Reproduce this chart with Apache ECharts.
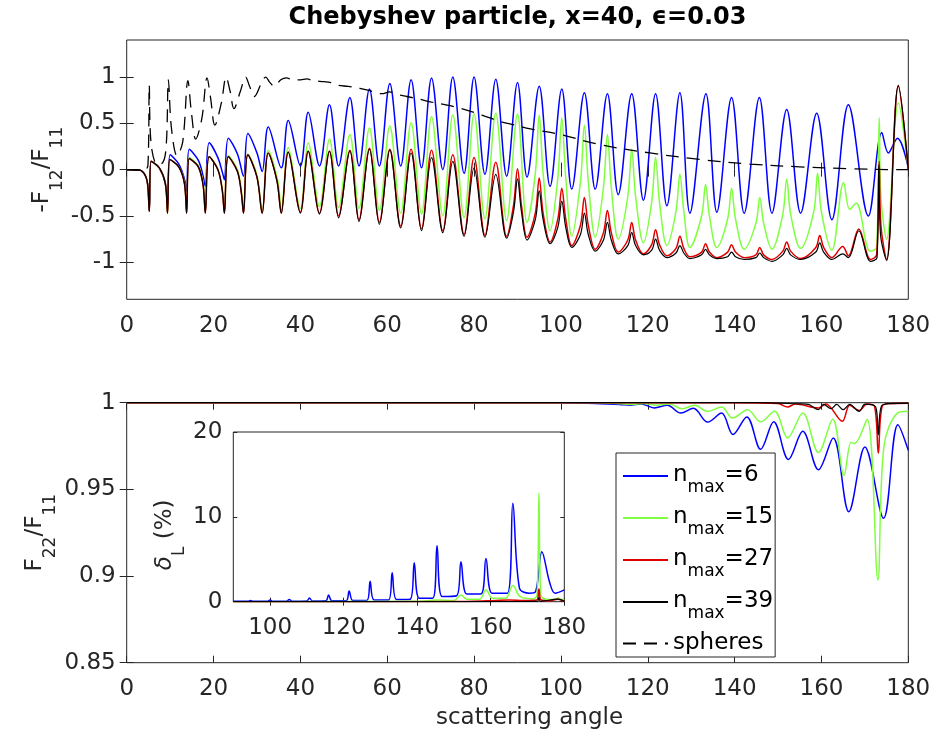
<!DOCTYPE html>
<html><head><meta charset="utf-8">
<script src="https://cdn.jsdelivr.net/npm/echarts@6/dist/echarts.min.js"></script>
<style>html,body{margin:0;padding:0;background:#fff}#c{width:935px;height:747px}</style>
</head><body><div id="c"></div>
<script>
// ---------------- data ----------------
const seriesNames = ['nmax=6', 'nmax=15', 'nmax=27', 'nmax=39', 'spheres'];
const xTicks = [0, 20, 40, 60, 80, 100, 120, 140, 160, 180];
const yTicksTop = [-1, -0.5, 0, 0.5, 1];
const yTicksBottom = [0.85, 0.9, 0.95, 1];
const xTicksInset = [100, 120, 140, 160, 180];
const yTicksInset = [0, 10, 20];

// -F12/F11  [angle, value]
const f12Blue = [[0,0],[2.5,0],[4,-0.04],[4.8,-0.15],[5.2,-0.45],[5.6,0.09],[7.5,0.02],[8.9,-0.15],[9.4,-0.38],[10.0,0.16],[12.0,0.06],[13.3,-0.10],[13.8,-0.23],[14.4,0.22],[16.5,0.10],[17.6,-0.07],[18.1,-0.18],[19.0,0.29],[21.0,0.13],[22.1,-0.04],[22.5,-0.11],[23.4,0.34],[25.5,0.17],[26.9,-0.07],[27.9,0.39],[30.0,0.18],[31.2,-0.02],[32.6,0.46],[35.6,0.02],[37.2,0.53],[40.0,0.04],[41.8,0.62],[44.4,0.04],[46.7,0.70],[48.8,0.04],[51.4,0.78],[53.5,0.04],[55.9,0.87],[58.2,0.04],[60.6,0.93],[63.1,0.04],[65.5,0.97],[67.9,0.02],[70.2,0.99],[72.8,0.00],[75.1,1.00],[77.7,-0.04],[80.0,1.00],[82.5,-0.05],[85.0,0.975],[87.5,-0.07],[90.0,0.94],[92.2,-0.08],[95.0,0.90],[97.5,-0.18],[100.2,0.87],[102.5,-0.21],[105.4,0.83],[107.9,-0.21],[110.7,0.82],[113.2,-0.27],[116.3,0.82],[119.0,-0.33],[121.8,0.82],[124.4,-0.39],[127.4,0.83],[129.7,-0.47],[133.4,0.82],[135.9,-0.46],[139.3,0.78],[142.2,-0.47],[145.7,0.78],[148.6,-0.47],[152.0,0.65],[155.2,-0.47],[158.9,0.61],[162.4,-0.54],[166.2,0.70],[170.8,-0.50],[173.9,0.40],[175.4,0.18],[177.5,0.34],[180,0.02]];
const f12Green = [[0,0],[2.5,0],[4,-0.04],[4.8,-0.15],[5.2,-0.45],[5.6,0.09],[7.5,0.02],[8.9,-0.15],[9.4,-0.47],[9.9,0.11],[12.0,0.03],[13.3,-0.14],[13.8,-0.46],[14.4,0.13],[16.5,0.04],[17.6,-0.15],[18.1,-0.45],[19.0,0.14],[21.0,0.01],[22.0,-0.20],[22.5,-0.45],[23.4,0.15],[25.5,0.00],[26.4,-0.22],[26.9,-0.45],[27.9,0.17],[30.0,-0.06],[31.2,-0.45],[32.6,0.21],[34.8,-0.12],[35.6,-0.44],[37.2,0.24],[40.0,-0.42],[41.8,0.29],[44.4,-0.40],[46.7,0.33],[48.8,-0.41],[51.4,0.38],[53.5,-0.42],[55.9,0.45],[58.2,-0.44],[60.6,0.47],[63.1,-0.47],[65.5,0.51],[67.9,-0.48],[70.2,0.57],[72.8,-0.50],[75.1,0.59],[77.7,-0.52],[80.0,0.60],[82.5,-0.53],[85.0,0.61],[87.5,-0.55],[90.0,0.60],[92.2,-0.57],
  [94.1,-0.04],[95.0,0.59],[95.9,-0.04],[97.5,-0.66],[99.3,-0.08],[100.2,0.56],[101.1,-0.08],[102.5,-0.72],[104.5,-0.13],[105.4,0.48],[106.3,-0.13],[107.9,-0.73],[109.8,-0.19],[110.7,0.38],[111.6,-0.19],[113.2,-0.75],[115.4,-0.29],[116.3,0.22],[117.2,-0.29],[119.0,-0.79],[120.9,-0.35],[121.8,0.13],[122.7,-0.35],[124.4,-0.82],[126.5,-0.45],[127.4,-0.05],[128.3,-0.45],[129.7,-0.84],[132.4,-0.50],[133.3,-0.16],[134.2,-0.50],[135.9,-0.84],[138.4,-0.53],[139.3,-0.20],[140.2,-0.53],[142.2,-0.86],[144.9,-0.58],[145.8,-0.30],[146.7,-0.58],[148.6,-0.86],[151.1,-0.48],[152.0,-0.10],[152.9,-0.48],[155.2,-0.85],[158.2,-0.46],[159.1,-0.04],[160.0,-0.46],[162.4,-0.87],[165.1,-0.14],[166.5,-0.43],[168.0,-0.36],[171.2,-0.88],[172.7,-0.84],[173.3,0.56],[173.7,-0.30],[175.0,-0.75],[177.7,0.72],[180,0.0]];
const f12Red = [[0,0],[2.5,0],[4,-0.04],[4.8,-0.15],[5.2,-0.45],[5.6,0.09],[7.5,0.02],[8.9,-0.15],[9.4,-0.47],[9.9,0.11],[12.0,0.03],[13.3,-0.15],[13.8,-0.47],[14.4,0.12],[16.5,0.03],[17.6,-0.17],[18.1,-0.47],[19.0,0.14],[21.0,0.00],[22.0,-0.22],[22.5,-0.47],[23.4,0.14],[25.5,-0.02],[26.4,-0.25],[26.9,-0.47],[27.9,0.16],[30.0,-0.08],[31.2,-0.47],[32.6,0.18],[34.6,-0.12],[35.6,-0.47],[37.2,0.19],[40.0,-0.46],[41.8,0.20],[44.4,-0.47],[46.7,0.20],[48.8,-0.50],[51.4,0.21],[53.5,-0.54],[55.9,0.23],[58.2,-0.57],[60.6,0.22],[63.1,-0.61],[65.5,0.22],[67.9,-0.64],[70.2,0.21],[72.8,-0.66],[75.1,0.16],[77.7,-0.70],[80.0,0.13],[82.5,-0.71],[85.0,0.08],[87.5,-0.72],
  [89.1,-0.38],[90.0,0.01],[90.9,-0.38],[92.2,-0.73],[94.1,-0.47],[95.0,-0.09],[95.9,-0.47],[97.5,-0.78],[99.3,-0.53],[100.2,-0.20],[101.1,-0.53],[102.5,-0.82],[104.5,-0.60],[105.4,-0.30],[106.3,-0.60],[107.9,-0.86],[109.8,-0.68],[110.7,-0.44],[111.6,-0.68],[113.2,-0.89],[115.4,-0.76],[116.3,-0.57],[117.2,-0.76],[119.0,-0.91],[120.9,-0.81],[121.8,-0.65],[122.7,-0.81],[124.4,-0.93],[126.5,-0.85],[127.4,-0.72],[128.3,-0.85],[129.7,-0.94],[132.4,-0.89],[133.3,-0.80],[134.2,-0.89],[135.9,-0.95],[138.4,-0.89],[139.3,-0.81],[140.2,-0.89],[142.2,-0.95],[144.9,-0.92],[145.8,-0.84],[146.7,-0.92],[148.6,-0.97],[151.1,-0.88],[152.0,-0.78],[152.9,-0.88],[155.2,-0.96],[158.7,-0.84],[159.6,-0.71],[160.5,-0.84],[162.4,-0.95],[164.9,-0.83],[166.2,-0.93],[168.6,-0.64],[171.3,-0.97],[172.7,-0.92],[173.3,0.09],[173.7,-0.60],[175.0,-0.97],[177.7,0.90],[180,0.0]];
const f12Black = [[0,0],[2.5,0],[4,-0.04],[4.8,-0.15],[5.2,-0.45],[5.6,0.09],[7.5,0.02],[8.9,-0.15],[9.4,-0.47],[9.9,0.11],[12.0,0.03],[13.3,-0.15],[13.8,-0.47],[14.4,0.12],[16.5,0.03],[17.6,-0.17],[18.1,-0.47],[19.0,0.14],[21.0,0.00],[22.0,-0.22],[22.5,-0.47],[23.4,0.14],[25.5,-0.02],[26.4,-0.25],[26.9,-0.47],[27.9,0.16],[30.0,-0.08],[31.2,-0.47],[32.6,0.18],[34.6,-0.12],[35.6,-0.47],[37.2,0.19],[40.0,-0.47],[41.8,0.20],[44.4,-0.48],[46.7,0.20],[48.8,-0.52],[51.4,0.20],[53.5,-0.56],[55.9,0.22],[58.2,-0.59],[60.6,0.21],[63.1,-0.63],[65.5,0.18],[67.9,-0.66],[70.2,0.13],[72.8,-0.68],[75.1,0.09],[77.7,-0.72],[80.0,0.02],[82.5,-0.73],[85.0,-0.05],[87.5,-0.74],
  [89.1,-0.45],[90.0,-0.10],[90.9,-0.45],[92.2,-0.76],[94.1,-0.54],[95.0,-0.23],[95.9,-0.54],[97.5,-0.80],[99.3,-0.62],[100.2,-0.34],[101.1,-0.62],[102.5,-0.84],[104.5,-0.70],[105.4,-0.47],[106.3,-0.70],[107.9,-0.88],[109.8,-0.76],[110.7,-0.57],[111.6,-0.76],[113.2,-0.91],[115.4,-0.82],[116.3,-0.68],[117.2,-0.82],[119.0,-0.92],[120.9,-0.87],[121.8,-0.75],[122.7,-0.87],[124.4,-0.95],[126.5,-0.90],[127.4,-0.82],[128.3,-0.90],[129.7,-0.96],[132.4,-0.92],[133.3,-0.86],[134.2,-0.92],[135.9,-0.96],[138.4,-0.94],[139.3,-0.89],[140.2,-0.94],[142.2,-0.97],[144.9,-0.95],[145.8,-0.90],[146.7,-0.95],[148.6,-0.99],[151.1,-0.92],[152.0,-0.85],[152.9,-0.92],[155.2,-0.97],[158.7,-0.89],[159.6,-0.79],[160.5,-0.89],[162.4,-0.97],[164.9,-0.91],[166.2,-0.95],[168.6,-0.66],[171.3,-0.99],[172.8,-0.95],[173.2,0.05],[173.6,-0.70],[175.0,-0.98],[177.7,0.91],[180,0.0]];
const f12Spheres = [[0,0],[4,-0.01],[4.9,0.05],[5.2,0.91],[5.5,0.35],[6.5,0.08],[7.8,0.06],[9.0,0.20],[9.6,0.97],[10.3,0.45],[11.6,0.15],[12.9,0.30],[14.1,0.96],[14.9,0.62],[15.9,0.33],[17.3,0.55],[18.5,0.99],[19.3,0.78],[20.3,0.48],[21.8,0.72],[22.9,1.0],[23.8,0.85],[24.7,0.66],[26.2,0.85],[27.4,1.0],[28.3,0.90],[29.4,0.79],[30.9,0.92],[32.0,1.0],[33.0,0.94],[34.0,0.90],[35.5,0.97],[36.8,0.99],[38.2,0.97],[40.0,0.97],[41.5,0.98],[43.0,0.96],[45.5,0.95],[47.0,0.94],[48.7,0.91],[51.0,0.90],[53.5,0.88],[55.5,0.86],[57.5,0.83],[58.8,0.82],[60.5,0.84],[62.5,0.81],[64.5,0.79],[67.5,0.76],[70.2,0.73],[73.5,0.70],[77.1,0.66],[81.8,0.59],[86.0,0.52],[88.7,0.49],[93.0,0.44],[99.8,0.38],[109.0,0.27],[120.5,0.18],[132.0,0.11],[143.5,0.06],[155.0,0.03],[166.5,0.01],[178.0,0.0],[180,0.0]];

// F22/F11
const f22Blue = [[0,1],[100,1],[104,0.9998],[108,0.9995],[111,0.9993],[113.5,0.9990],[116,0.9985],[118.5,0.9993],[121.5,0.9970],[124.5,0.9985],[127.6,0.9940],[130.5,0.9968],[133.8,0.9888],[137,0.9940],[139.6,0.9817],[142.8,0.9918],[146.0,0.9731],[149.0,0.9890],[152.4,0.9673],[155.7,0.9835],[159.3,0.9613],[162.7,0.9796],[166.3,0.9371],[170.0,0.9744],[174.3,0.9333],[177.6,0.9873],[180,0.9725]];
const f22Green = [[0,1],[108,1],[112,0.9997],[116.3,0.9990],[119,0.9996],[122,0.9985],[125,0.9993],[127.9,0.9965],[130.8,0.9985],[133.8,0.9950],[137,0.9975],[139.5,0.9912],[143,0.9960],[146.0,0.9890],[149.2,0.9950],[152.2,0.9797],[155.7,0.9940],[159.3,0.9712],[162.6,0.9905],[165.2,0.9580],[166.8,0.9770],[167.6,0.9765],[170.5,0.9905],[173.0,0.8977],[174.4,0.9750],[177.5,0.9940],[180,0.9950]];
const f22Red = [[0,1],[140,1],[150,0.9995],[152.2,0.9975],[154,0.9993],[159.3,0.9970],[161,0.9993],[164.8,0.9893],[166.5,0.9985],[168.7,0.9955],[170.5,0.9992],[172.2,0.9980],[173.1,0.9708],[174.0,0.9980],[176,0.9995],[180,0.9997]];
const f22Black = [[0,1],[145,1],[155,0.9993],[157,0.9990],[159.3,0.9960],[160.5,0.9990],[162.2,0.9965],[163.5,0.9990],[165,0.9960],[166.5,0.9990],[168.7,0.9950],[170,0.9992],[172.5,0.9975],[173.1,0.9815],[173.8,0.9980],[176,0.9995],[180,0.9998]];

// delta_L (%) inset
const dlBlue = [[90,0.05],[94,0.05],[94.7,0.15],[95.4,0.05],[99.3,0.05],[100,0.2],[100.7,0.05],[104.5,0.05],[105.2,0.25],[106,0.05],[110,0.08],[110.7,0.45],[111.5,0.08],[115.2,0.1],[115.9,0.8],[116.8,0.1],[120.7,0.12],[121.5,1.27],[122.5,0.15],[126.3,0.15],[127.2,2.4],[128.3,0.2],[132.2,0.2],[133.2,3.4],[134.4,0.25],[138.1,0.3],[139.2,4.6],[140.6,0.4],[144.2,0.4],[145.4,6.6],[146.8,0.6],[150.7,0.7],[151.9,4.7],[153.5,0.9],[157.3,0.9],[158.7,5.1],[160.4,1.0],[164.5,1.0],[166.0,11.6],[167.8,1.6],[170.5,1.0],[172.2,1.2],[173.9,5.9],[176.0,2.3],[177.5,1.0],[180,1.4]];
const dlGreen = [[90,0],[140,0.05],[145.4,0.2],[150,0.15],[151.9,0.8],[153.5,0.3],[157,0.3],[158.7,1.4],[160.5,0.4],[164,0.4],[166,1.9],[168,0.6],[171.5,0.35],[172.6,0.8],[173.1,12.8],[173.6,0.8],[175,0.3],[177.5,0.25],[178.4,0.45],[179.2,0.25],[180,0.3]];
const dlRed = [[90,0],[150,0.02],[159,0.1],[165,0.2],[169,0.15],[172.5,0.2],[173.1,1.5],[173.7,0.2],[176,0.1],[178.2,0.3],[180,0.05]];
const dlBlack = [[90,0],[160,0.02],[172.7,0.05],[173.1,0.5],[173.5,0.05],[178.2,0.3],[180,0.05]];

// ---------------- chart ----------------
const FONT = '"DejaVu Sans", sans-serif';
const AX = '#262626';
const colors = ['#0000ff', '#80ff40', '#e00000', '#000000', '#000000'];
const widths = [1.5, 1.5, 1.5, 1.2, 1.3];

function xAx(grid, min, max, ticks, labels, pos, tickLen, extra) {
  return Object.assign({
    type: 'value', gridIndex: grid, min: min, max: max, position: pos,
    axisLine: { show: false }, splitLine: { show: false },
    axisTick: { inside: true, length: tickLen, customValues: ticks, lineStyle: { color: AX, width: 1 } },
    axisLabel: { show: labels, customValues: ticks, margin: 15, color: AX, fontSize: 23, fontFamily: FONT, formatter: v => '' + v }
  }, extra || {});
}
function yAx(grid, min, max, ticks, labels, pos, tickLen, extra) {
  return Object.assign({
    type: 'value', gridIndex: grid, min: min, max: max, position: pos,
    axisLine: { show: false }, splitLine: { show: false },
    axisTick: { inside: true, length: tickLen, customValues: ticks, lineStyle: { color: AX, width: 1 } },
    axisLabel: { show: labels, customValues: ticks, margin: 11, color: AX, fontSize: 23, fontFamily: FONT, formatter: v => '' + v }
  }, extra || {});
}
const nameRich = {
  t: { fontSize: 23, fontFamily: FONT, color: AX, verticalAlign: 'top', lineHeight: 24 },
  g: { fontSize: 23, fontFamily: FONT, color: AX, verticalAlign: 'top', lineHeight: 24, fontStyle: 'italic' },
  s: { fontSize: 17, fontFamily: FONT, color: AX, verticalAlign: 'top', lineHeight: 17, padding: [18, 0, 0, 0] }
};

function line(name, data, xi, idx) {
  const dashed = name === 'spheres';
  return {
    name: name, type: 'line', data: data, xAxisIndex: xi, yAxisIndex: xi,
    symbol: 'none', showSymbol: false, smooth: 0.35,
    lineStyle: { color: colors[idx], width: widths[idx], type: dashed ? [13, 8] : 'solid' },
    itemStyle: { color: colors[idx] }, emphasis: { disabled: true }, z: 2 + idx * 0.1
  };
}

const chart = echarts.init(document.getElementById('c'), null, { renderer: 'canvas' });
chart.setOption({
  animation: false,
  backgroundColor: '#fff',
  graphic: [{
    type: 'text', x: 517.5, y: 18,
    style: { text: 'Chebyshev particle, x=40, \u03F5=0.03', font: 'bold 24px ' + FONT, fill: '#000', textAlign: 'center', textVerticalAlign: 'middle' }
  }],
  grid: [
    { left: 126.7, top: 40, width: 781.6, height: 259.3, show: true, borderColor: AX, borderWidth: 1, backgroundColor: '#fff' },
    { left: 126.7, top: 402.7, width: 781.6, height: 260, show: true, borderColor: AX, borderWidth: 1, backgroundColor: '#fff' },
    { left: 233.3, top: 432, width: 331, height: 169.7, show: true, borderColor: AX, borderWidth: 1, backgroundColor: '#fff', z: 3 }
  ],
  xAxis: [
    xAx(0, 0, 180, xTicks, true, 'bottom', 7),
    xAx(0, 0, 180, xTicks, false, 'top', 7),
    xAx(1, 0, 180, xTicks, true, 'bottom', 7, { name: 'scattering angle', nameLocation: 'middle', nameGap: 44, nameTextStyle: { fontSize: 23, fontFamily: FONT, color: AX, padding: [0, 0, 0, 24] } }),
    xAx(1, 0, 180, xTicks, false, 'top', 7),
    xAx(2, 90, 180, xTicksInset, true, 'bottom', 4, { z: 4 }),
    xAx(2, 90, 180, xTicksInset, false, 'top', 4, { z: 4 })
  ],
  yAxis: [
    yAx(0, -1.4, 1.4, yTicksTop, true, 'left', 7, { name: '{t|-F}{s|12}{t|/F}{s|11}', nameLocation: 'middle', nameGap: 72, nameMoveOverlap: false, nameTextStyle: { rich: nameRich } }),
    yAx(0, -1.4, 1.4, yTicksTop, false, 'right', 7),
    yAx(1, 0.85, 1, yTicksBottom, true, 'left', 7, { name: '{t|F}{s|22}{t|/F}{s|11}', nameLocation: 'middle', nameGap: 79, nameMoveOverlap: false, nameTextStyle: { rich: nameRich } }),
    yAx(1, 0.85, 1, yTicksBottom, false, 'right', 7),
    yAx(2, 0, 20, yTicksInset, true, 'left', 4, { z: 4, name: '{g|\u03B4}{s|L}{t| (%)}', nameLocation: 'middle', nameGap: 56, nameMoveOverlap: false, nameTextStyle: { rich: nameRich, padding: [0, 36, 0, 0] } }),
    yAx(2, 0, 20, yTicksInset, false, 'right', 4, { z: 4 })
  ],
  legend: {
    data: seriesNames, orient: 'vertical', left: 616, top: 453,
    padding: [11, 2, 2, 6], itemGap: 10, itemWidth: 45, itemHeight: 14,
    backgroundColor: '#fff', borderColor: AX, borderWidth: 1, borderRadius: 0,
    selectedMode: false, z: 10,
    itemStyle: { opacity: 0 },
    formatter: function (n) {
      if (n === 'spheres') return '{p|spheres}';
      return '{t|n}{s|max}{t|=' + n.split('=')[1] + '}';
    },
    textStyle: {
      rich: {
        t: { fontSize: 23, fontFamily: FONT, color: '#000', verticalAlign: 'top', lineHeight: 24 },
        p: { fontSize: 23, fontFamily: FONT, color: '#000', height: 18, lineHeight: 18 },
        s: { fontSize: 17, fontFamily: FONT, color: '#000', verticalAlign: 'top', lineHeight: 17, padding: [15, 0, 0, 0] }
      }
    }
  },
  series: [
    line(seriesNames[0], f12Blue, 0, 0),
    line(seriesNames[1], f12Green, 0, 1),
    line(seriesNames[2], f12Red, 0, 2),
    line(seriesNames[3], f12Black, 0, 3),
    line(seriesNames[4], f12Spheres, 0, 4),
    line(seriesNames[0], f22Blue, 2, 0),
    line(seriesNames[1], f22Green, 2, 1),
    line(seriesNames[2], f22Red, 2, 2),
    line(seriesNames[3], f22Black, 2, 3),
    Object.assign(line(seriesNames[0], dlBlue, 4, 0), { z: 5 }),
    Object.assign(line(seriesNames[1], dlGreen, 4, 1), { z: 5.1 }),
    Object.assign(line(seriesNames[2], dlRed, 4, 2), { z: 5.2 }),
    Object.assign(line(seriesNames[3], dlBlack, 4, 3), { z: 5.3 })
  ]
});
</script>
</body></html>
